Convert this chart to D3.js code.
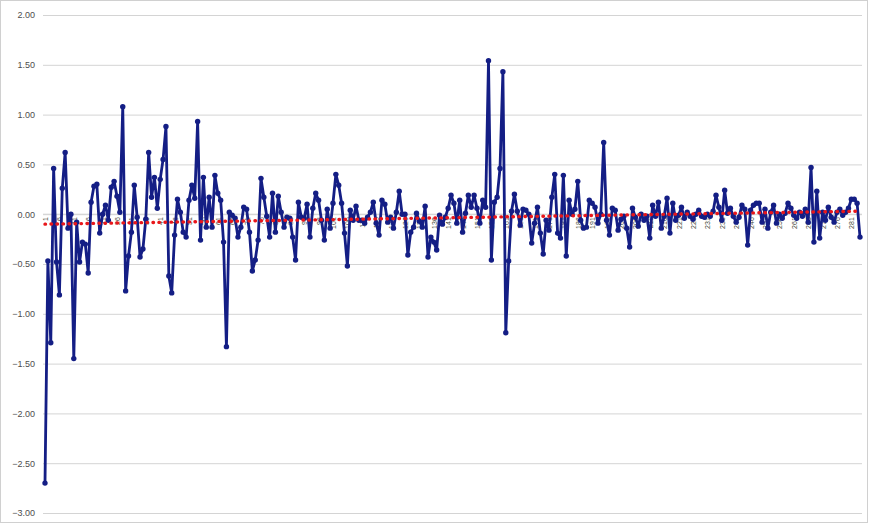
<!DOCTYPE html>
<html>
<head>
<meta charset="utf-8">
<script src="https://cdn.jsdelivr.net/npm/d3@7/dist/d3.min.js"></script>
<style>
  html, body { margin: 0; padding: 0; background: #fff; }
  svg { display: block; }
</style>
</head>
<body>
<div id="chart"></div>
<script>
// ---- data ----
const values = [
  -2.70, -0.47, -1.29, 0.46, -0.48, -0.81, 0.26, 0.62, -0.14, 0.00,
  -1.45, -0.08, -0.48, -0.28, -0.30, -0.59, 0.12, 0.28, 0.30, -0.19,
  0.00, 0.09, -0.06, 0.27, 0.33, 0.18, 0.02, 1.08, -0.77, -0.42,
  -0.18, 0.29, -0.03, -0.43, -0.35, -0.05, 0.62, 0.17, 0.37, 0.06,
  0.35, 0.55, 0.88, -0.62, -0.79, -0.21, 0.15, 0.02, -0.18, -0.23,
  0.14, 0.29, 0.16, 0.93, -0.26, 0.37, -0.13, 0.17, -0.13, 0.39,
  0.21, 0.14, -0.28, -1.33, 0.02, -0.01, -0.04, -0.23, -0.13, 0.07,
  0.05, -0.18, -0.57, -0.46, -0.26, 0.36, 0.17, -0.02, -0.23, 0.21,
  -0.18, 0.18, 0.02, -0.13, -0.03, -0.04, -0.23, -0.46, 0.12, -0.03,
  -0.04, 0.10, -0.23, 0.06, 0.21, 0.14, -0.06, -0.26, 0.05, -0.14,
  0.11, 0.40, 0.29, 0.11, -0.19, -0.52, 0.04, -0.06, 0.08, -0.06,
  -0.06, -0.09, -0.03, 0.02, 0.12, -0.09, -0.21, 0.14, 0.10, -0.08,
  -0.03, -0.14, 0.02, 0.23, 0.00, 0.00, -0.41, -0.18, -0.13, 0.01,
  -0.07, -0.13, 0.08, -0.43, -0.23, -0.28, -0.36, -0.01, -0.10, -0.03,
  0.06, 0.19, 0.11, -0.09, 0.14, -0.18, 0.01, 0.19, 0.07, 0.19,
  0.06, -0.09, 0.14, 0.07, 1.54, -0.46, 0.12, 0.17, 0.46, 1.43,
  -1.19, -0.47, 0.03, 0.20, 0.03, -0.11, 0.05, 0.04, 0.00, -0.29,
  -0.09, 0.07, -0.19, -0.40, -0.06, -0.16, 0.17, 0.40, -0.19, -0.24,
  0.39, -0.42, 0.14, 0.00, 0.05, 0.33, -0.06, -0.14, -0.13, 0.14,
  0.11, 0.07, -0.09, 0.00, 0.72, -0.06, -0.21, 0.06, 0.04, -0.16,
  -0.05, -0.02, -0.14, -0.33, 0.06, -0.03, -0.12, 0.00, -0.06, -0.02,
  -0.24, 0.09, -0.02, 0.12, -0.14, -0.02, 0.16, -0.19, 0.11, -0.06,
  -0.01, 0.07, -0.04, 0.02, -0.02, -0.05, 0.00, 0.04, -0.02, -0.03,
  0.00, -0.02, 0.03, 0.19, 0.07, -0.06, 0.24, 0.01, 0.06, -0.02,
  -0.08, -0.03, 0.09, 0.05, -0.31, 0.04, 0.09, 0.11, 0.11, -0.08,
  0.05, -0.14, 0.02, 0.09, -0.09, 0.00, -0.04, 0.01, 0.11, 0.06,
  -0.01, -0.04, 0.02, -0.02, 0.05, -0.08, 0.47, -0.28, 0.23, -0.24,
  0.02, -0.06, 0.07, -0.03, -0.08, 0.02, 0.05, -0.01, 0.02, 0.06,
  0.15, 0.15, 0.11, -0.23
];
const categories = values.map((d, i) => String(i + 1));
const categoryTickLabels = categories.filter((c, i) => i % 5 === 0);
const yTickValues = [2.0, 1.5, 1.0, 0.5, 0.0, -0.5, -1.0, -1.5, -2.0, -2.5, -3.0];
const trendValues = [-0.10, 0.03]; // linear trendline at first and last category

// ---- layout ----
const W = 870, H = 525;
const svg = d3.select("#chart").append("svg").attr("width", W).attr("height", H);

svg.append("rect").attr("x", 0.5).attr("y", 0.5).attr("width", W - 3).attr("height", H - 3)
  .attr("fill", "#fff").attr("stroke", "#d0d0d0");

const x = d3.scalePoint().domain(categories).range([45, 860]);
const y = d3.scaleLinear().domain([-3, 2]).range([513, 15]);

// gridlines + y labels
const yAxis = d3.axisLeft(y).tickValues(yTickValues).tickSize(-(860 - 43)).tickFormat(d3.format(".2f"));
const gy = svg.append("g").attr("transform", "translate(43,0)").call(yAxis);
gy.select(".domain").remove();
gy.selectAll(".tick line").attr("stroke", "#d4d4d4").attr("stroke-width", 1).attr("x2", 860 - 43 + 2);
gy.selectAll(".tick text").attr("x", -8).attr("fill", "#4d4d4d")
  .style("font-family", "'Liberation Sans', Arial, sans-serif").style("font-size", "9px");

// category axis at zero
const xAxis = d3.axisBottom(x).tickValues(categoryTickLabels).tickSize(0);
const gx = svg.append("g").attr("transform", `translate(0,${y(0)})`).call(xAxis);
gx.select(".domain").attr("stroke", "#d4d4d4").attr("d", `M43,0H862`);
gx.selectAll(".tick text")
  .attr("transform", "rotate(-90)")
  .attr("text-anchor", "end")
  .attr("x", -3).attr("y", 0).attr("dy", "0.35em")
  .attr("fill", "#3f4a3a")
  .style("font-family", "'Liberation Sans', Arial, sans-serif").style("font-size", "7px");

// series line
const navy = "#141e85";
const line = d3.line().x((d, i) => x(categories[i])).y(d => y(d));
svg.append("path").datum(values).attr("d", line)
  .attr("fill", "none").attr("stroke", navy).attr("stroke-width", 2.8).attr("stroke-linejoin", "round");
svg.append("g").selectAll("circle").data(values).join("circle")
  .attr("cx", (d, i) => x(categories[i])).attr("cy", d => y(d)).attr("r", 2.7).attr("fill", navy);

// trendline
svg.append("line")
  .attr("x1", x(categories[0])).attr("y1", y(trendValues[0]))
  .attr("x2", x(categories[categories.length - 1])).attr("y2", y(trendValues[1]))
  .attr("stroke", "#e8171b").attr("stroke-width", 3.4).attr("stroke-linecap", "round")
  .attr("stroke-dasharray", "0.5 5.5");
</script>
</body>
</html>
